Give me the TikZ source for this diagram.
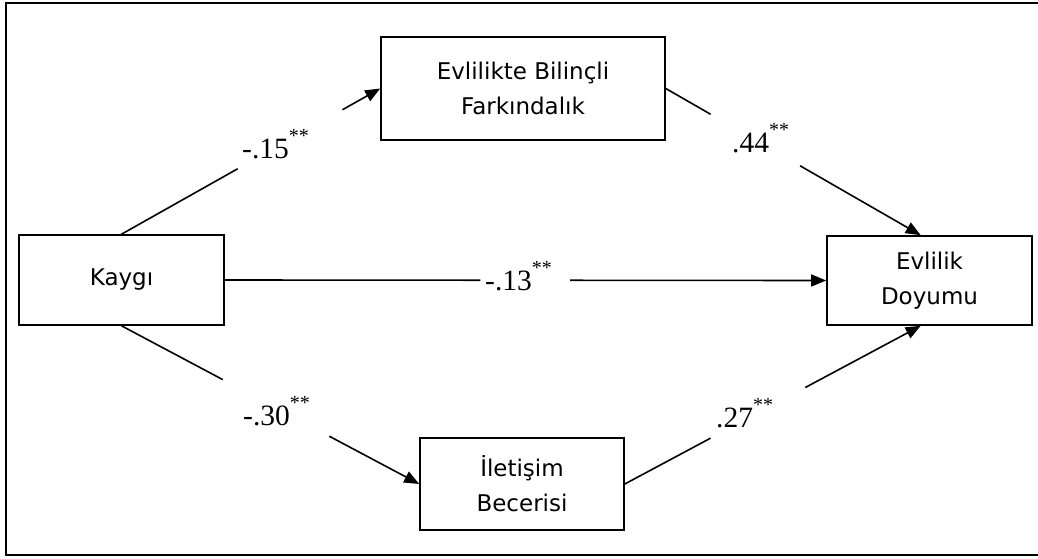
\documentclass[tikz,border=0pt]{standalone}
\usepackage{fontspec}
\setmainfont{DejaVu Sans}
\newfontfamily\numfont{Liberation Serif}
\usetikzlibrary{arrows.meta,calc}

% significance marks set above the coefficient
\newcommand\sigstars{\raisebox{15.5pt}{\fontsize{20}{20}\selectfont **}}

\begin{document}
\begin{tikzpicture}[x=1pt,y=-1pt,
  var/.style={draw, line width=1.6pt, align=center, inner sep=0pt,
              font=\fontsize{23}{35}\selectfont},
  link/.style={line width=1.6pt},
  tip/.style={-{Triangle[length=15pt,width=12pt]}},
  coef/.style={font=\numfont\fontsize{29.5}{30}\selectfont, inner sep=0pt, anchor=base west}
]
\useasboundingbox (0,0) rectangle (1038,559);

% outer frame (open on the right)
\draw[line width=2.2pt] (1045,3) -- (6,3) -- (6,555) -- (1045,555);

% variables
\node[var, minimum width=205pt, minimum height=90pt]  (k) at (121.5,280)  {Kaygı};
\node[var, minimum width=284pt, minimum height=103pt] (t) at (523,88.5)   {Evlilikte Bilinçli\\Farkındalık};
\node[var, minimum width=205pt, minimum height=89pt]  (r) at (929.5,280.5) {Evlilik\\Doyumu};
\node[var, minimum width=204pt, minimum height=92pt]  (b) at (522,484)    {İletişim\\Becerisi};

% paths, broken where the coefficients sit
\draw[link] (k.north) -- ($(k.north)!0.449!(t.west)$);
\draw[link,tip] ($(k.north)!0.854!(t.west)$) -- (t.west);

\draw[link] (t.east) -- ($(t.east)!0.176!(r.101)$);
\draw[link,tip] ($(t.east)!0.527!(r.101)$) -- (r.101);

\draw[link] (k.east) -- ($(k.east)!0.425!(r.west)$);
\draw[link,tip] ($(k.east)!0.574!(r.west)$) -- (r.west);

\draw[link] (k.south) -- ($(k.south)!0.340!(b.west)$);
\draw[link,tip] ($(k.south)!0.698!(b.west)$) -- (b.west);

\draw[link] (b.east) -- ($(b.east)!0.29!(r.259)$);
\draw[link,tip] ($(b.east)!0.61!(r.259)$) -- (r.259);

% path coefficients
\node[coef] (c1) at (242,158) {-.15\sigstars};
\node[coef] (c2) at (732,152) {.44\sigstars};
\node[coef] (c3) at (485,290) {-.13\sigstars};
\node[coef] (c4) at (243,425) {-.30\sigstars};
\node[coef] (c5) at (716,427) {.27\sigstars};
\end{tikzpicture}
\end{document}
